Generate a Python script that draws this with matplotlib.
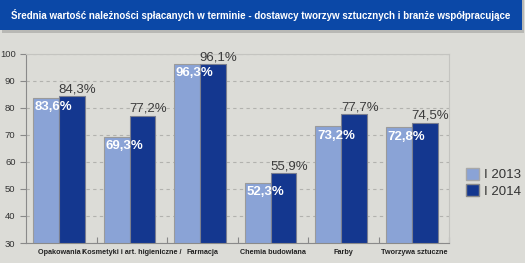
import matplotlib.pyplot as plt
import numpy as np
from matplotlib.patches import Rectangle, Patch

# data
categories = ['Opakowania /', 'Kosmetyki i art. higieniczne /', 'Farmacja',
              'Chemia budowlana', 'Farby', 'Tworzywa sztuczne']
v2013 = [83.6, 69.3, 96.3, 52.3, 73.2, 72.8]
v2014 = [84.3, 77.2, 96.1, 55.9, 77.7, 74.5]
series = ['I 2013', 'I 2014']

bg = '#dcdcd7'
light = '#8aa3d6'
dark = '#14378f'

plt.rcParams['font.family'] = ['Liberation Sans', 'DejaVu Sans']

fig = plt.figure(figsize=(5.25, 2.63), dpi=100, facecolor=bg)

# title banner
fig.patches.append(Rectangle((0.004, 0.875), 0.994, 0.125, transform=fig.transFigure,
                             facecolor='#b8b8b4', edgecolor='none', zorder=0))
fig.patches.append(Rectangle((0.0, 0.885), 0.994, 0.115, transform=fig.transFigure,
                             facecolor='#0b48a7', edgecolor='none', zorder=1))
fig.text(0.497, 0.942, 'Średnia wartość należności spłacanych w terminie - dostawcy tworzyw sztucznych i branże współpracujące',
         color='white', fontsize=7.05, fontweight='bold', ha='center', va='center', zorder=2)

ax = fig.add_axes([0.0495, 0.076, 0.806, 0.719])
ax.set_facecolor(bg)

x = np.arange(len(categories))
w = 0.365
ax.bar(x - w / 2 - 0.03, np.array(v2013) - 30, w, bottom=30, color=light,
       edgecolor='#9a9a9a', linewidth=0.8, zorder=3)
ax.bar(x + w / 2 - 0.03, np.array(v2014) - 30, w, bottom=30, color=dark,
       edgecolor='#7a7f90', linewidth=0.8, zorder=3)

for i in range(len(categories)):
    ax.text(x[i] - w - 0.01, v2013[i] - 1.2, f'{v2013[i]:.1f}%'.replace('.', ','),
            color='white', fontsize=9.5, fontweight='bold', ha='left', va='top', zorder=5)
    ax.text(x[i] + w / 2 + 0.05, v2014[i] + 0.3, f'{v2014[i]:.1f}%'.replace('.', ','),
            color='#3c3c3c', fontsize=9.5, ha='center', va='bottom', zorder=5)

ax.set_xlim(-0.5, len(categories) - 0.5)
ax.set_ylim(30, 100)
ax.set_yticks(range(30, 101, 10))
ax.yaxis.grid(True, linestyle=(0, (3, 3)), color='#b2b2ae', linewidth=0.8, zorder=0)
ax.tick_params(axis='y', labelsize=6.8, colors='#333333', length=4, color='#888888', width=0.8)

ax.set_xticks(x)
ax.set_xticklabels(categories, fontsize=5.2, fontweight='bold', color='#222222')
ax.tick_params(axis='x', length=0, pad=4)
ax.set_xticks(np.arange(0.5, len(categories)), minor=True)
ax.tick_params(axis='x', which='minor', direction='in', length=4, color='#888888', width=0.8)

for s in ['top', 'right']:
    ax.spines[s].set_color('#c4c4c0')
    ax.spines[s].set_linewidth(0.8)
for s in ['left', 'bottom']:
    ax.spines[s].set_color('#8a8a8a')
    ax.spines[s].set_linewidth(0.8)

handles = [Patch(facecolor=light, edgecolor='#a8a8a8'), Patch(facecolor=dark, edgecolor='#8a8a8a')]
fig.legend(handles, series, loc='center left', bbox_to_anchor=(0.865, 0.305),
           frameon=False, fontsize=9.5, handlelength=1.0, handleheight=1.0,
           handletextpad=0.4, labelspacing=0.25, labelcolor='#333333')

fig.savefig('out.png', dpi=100, facecolor=bg)
